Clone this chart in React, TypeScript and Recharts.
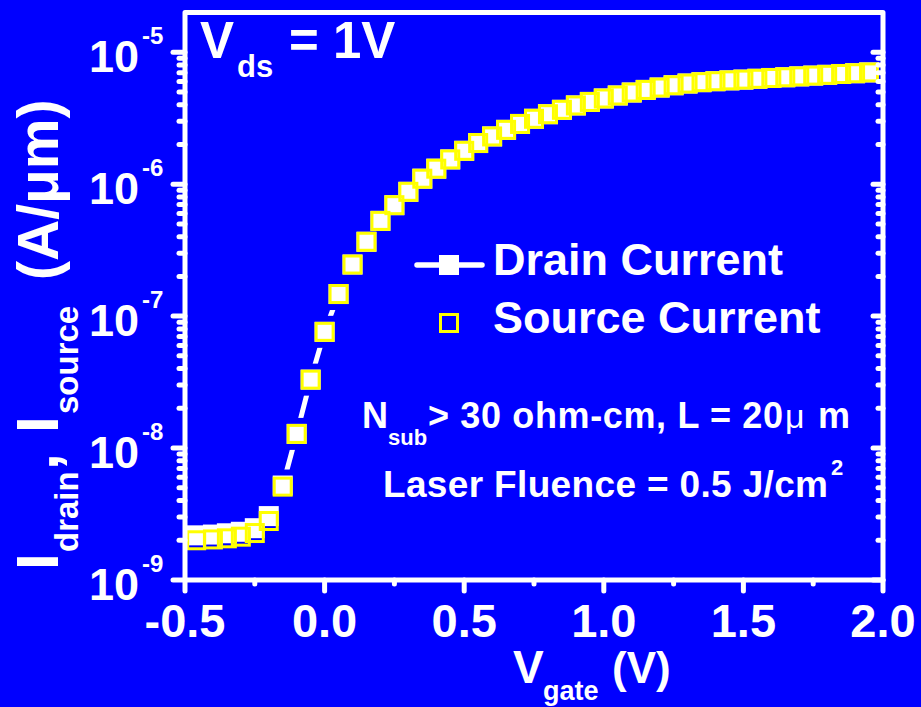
import React from 'react';
import { ComposedChart, Line, XAxis, YAxis } from 'recharts';

// gate voltage sweep (V)
const gateV = [
  -0.46, -0.4, -0.35, -0.3, -0.25, -0.2, -0.15, -0.1, -0.05, 0.0,
  0.05, 0.1, 0.15, 0.2, 0.25, 0.3, 0.35, 0.4, 0.45, 0.5,
  0.55, 0.6, 0.65, 0.7, 0.75, 0.8, 0.85, 0.9, 0.95, 1.0,
  1.05, 1.1, 1.15, 1.2, 1.25, 1.3, 1.35, 1.4, 1.45, 1.5,
  1.55, 1.6, 1.65, 1.7, 1.75, 1.8, 1.85, 1.9, 1.95,
];

// source current (A/um)
const sourceI = [
  2.0e-9, 2.03e-9, 2.07e-9, 2.13e-9, 2.27e-9, 2.8e-9, 5.1e-9, 1.28e-8, 3.3e-8, 7.6e-8,
  1.47e-7, 2.46e-7, 3.66e-7, 5.27e-7, 6.93e-7, 8.75e-7, 1.1e-6, 1.31e-6, 1.54e-6, 1.79e-6,
  2.05e-6, 2.3e-6, 2.58e-6, 2.86e-6, 3.13e-6, 3.39e-6, 3.66e-6, 3.95e-6, 4.2e-6, 4.46e-6,
  4.7e-6, 4.95e-6, 5.18e-6, 5.4e-6, 5.62e-6, 5.79e-6, 5.93e-6, 6.03e-6, 6.12e-6, 6.2e-6,
  6.29e-6, 6.38e-6, 6.46e-6, 6.56e-6, 6.65e-6, 6.74e-6, 6.84e-6, 6.93e-6, 7.03e-6,
];

// drain current (A/um), slightly above the source in the off state
const drainI = [
  2.18e-9, 2.21e-9, 2.26e-9, 2.32e-9, 2.47e-9, 3.05e-9, 5.2e-9, 1.28e-8, 3.3e-8, 7.6e-8,
  1.47e-7, 2.46e-7, 3.66e-7, 5.27e-7, 6.93e-7, 8.75e-7, 1.1e-6, 1.31e-6, 1.54e-6, 1.79e-6,
  2.05e-6, 2.3e-6, 2.58e-6, 2.86e-6, 3.13e-6, 3.39e-6, 3.66e-6, 3.95e-6, 4.2e-6, 4.46e-6,
  4.7e-6, 4.95e-6, 5.18e-6, 5.4e-6, 5.62e-6, 5.79e-6, 5.93e-6, 6.03e-6, 6.12e-6, 6.2e-6,
  6.29e-6, 6.38e-6, 6.46e-6, 6.56e-6, 6.65e-6, 6.74e-6, 6.84e-6, 6.93e-6, 7.03e-6,
];

const xTicks = [-0.5, -0.25, 0, 0.25, 0.5, 0.75, 1.0, 1.25, 1.5, 1.75, 2.0];
const yDecades = [-9, -8, -7, -6, -5];
const yMax = 2e-5;

const yTicks: number[] = [];
yDecades.forEach((d) => {
  for (let m = 1; m <= 9; m++) {
    const v = m * Math.pow(10, d);
    if (v < 1.9e-5) yTicks.push(v);
  }
});

const data = gateV.map((v, i) => ({ v, source: sourceI[i], drain: drainI[i] }));

const W = 921;
const H = 707;
const PL = 185;
const PR = 883;
const PT = 12.5;
const PB = 580;
const BG = '#0000FF';
const YEL = '#FFFF00';
const FONT = "'Liberation Sans', Arial, sans-serif";

const isDecade = (v: number) => {
  const l = Math.log10(v);
  return Math.abs(l - Math.round(l)) < 1e-6;
};

const LeftTick = (props: any) => {
  const { y, payload } = props;
  const v = payload.value;
  const major = isDecade(v);
  return (
    <g>
      <line x1={PL - (major ? 12 : 6)} x2={PL} y1={y} y2={y} stroke="#fff" strokeWidth={5} strokeLinecap="round" />
      {major && (
        <>
          <text x={139} y={y + 20} textAnchor="end" fontSize={45} fontWeight="bold" fill="#fff" fontFamily={FONT}>
            10
          </text>
          <text x={142} y={y - 8} fontSize={24} fontWeight="bold" fill="#fff" fontFamily={FONT}>
            {String(Math.round(Math.log10(v)))}
          </text>
        </>
      )}
    </g>
  );
};

const RightTick = (props: any) => {
  const { y, payload } = props;
  const major = isDecade(payload.value);
  return (
    <line x1={PR - (major ? 10 : 5)} x2={PR} y1={y} y2={y} stroke="#fff" strokeWidth={5} strokeLinecap="round" />
  );
};

const BottomTick = (props: any) => {
  const { x, payload } = props;
  const v = payload.value;
  const major = Math.abs(v * 2 - Math.round(v * 2)) < 1e-6;
  return (
    <g>
      <line x1={x} x2={x} y1={PB} y2={PB + (major ? 11 : 4)} stroke="#fff" strokeWidth={5} strokeLinecap="round" />
      {major && (
        <text x={x} y={637} textAnchor="middle" fontSize={47} fontWeight="bold" fill="#fff" fontFamily={FONT}>
          {v.toFixed(1)}
        </text>
      )}
    </g>
  );
};

const haloDot = (p: any) => (
  <rect key={`h${p.index}`} x={p.cx - 16} y={p.cy - 16} width={32} height={32} fill={BG} />
);
const drainDot = (p: any) => (
  <rect key={`d${p.index}`} x={p.cx - 10} y={p.cy - 10} width={20} height={20} fill="#fff" />
);
const sourceDot = (p: any) => (
  <rect key={`s${p.index}`} x={p.cx - 8.5} y={p.cy - 8.5} width={17} height={17} fill="none" stroke={YEL} strokeWidth={3} />
);

export default function App() {
  return (
    <div style={{ position: 'absolute', left: 0, top: 0, width: W, height: H, background: BG, overflow: 'hidden' }}>
      <ComposedChart width={W} height={H} data={data} margin={{ top: PT, right: 0, bottom: 0, left: 0 }}>
        <XAxis
          dataKey="v"
          type="number"
          domain={[-0.5, 2.0]}
          ticks={xTicks}
          interval={0}
          height={127}
          axisLine={false}
          tickLine={false}
          tick={<BottomTick />}
          allowDataOverflow
        />
        <YAxis
          yAxisId="l"
          type="number"
          scale="log"
          domain={[1e-9, yMax]}
          ticks={yTicks}
          interval={0}
          width={185}
          axisLine={false}
          tickLine={false}
          tick={<LeftTick />}
          allowDataOverflow
        />
        <YAxis
          yAxisId="r"
          orientation="right"
          type="number"
          scale="log"
          domain={[1e-9, yMax]}
          ticks={yTicks}
          interval={0}
          width={38}
          axisLine={false}
          tickLine={false}
          tick={<RightTick />}
          allowDataOverflow
        />
        <Line yAxisId="l" dataKey="drain" stroke="#fff" strokeWidth={5} dot={false} activeDot={false} isAnimationActive={false} />
        <Line yAxisId="l" dataKey="drain" stroke="none" dot={haloDot} activeDot={false} isAnimationActive={false} />
        <Line yAxisId="l" dataKey="drain" stroke="none" dot={drainDot} activeDot={false} isAnimationActive={false} />
        <Line yAxisId="l" dataKey="source" stroke="none" dot={sourceDot} activeDot={false} isAnimationActive={false} />
      </ComposedChart>

      <svg
        width={W}
        height={H}
        style={{ position: 'absolute', left: 0, top: 0, pointerEvents: 'none' }}
        fontFamily={FONT}
        fontWeight="bold"
        fill="#fff"
      >
        <rect x={PL} y={PT} width={PR - PL} height={PB - PT} fill="none" stroke="#fff" strokeWidth={5} strokeLinejoin="round" />

        {/* Vds label */}
        <text x={200} y={58} fontSize={51}>V</text>
        <text x={237} y={77} fontSize={31}>ds</text>
        <text x={289} y={58} fontSize={51}>= 1V</text>

        {/* legend */}
        <line x1={417} x2={482} y1={265} y2={265} stroke="#fff" strokeWidth={5.5} strokeLinecap="round" />
        <rect x={439} y={255} width={20} height={20} fill="#fff" />
        <text x={493} y={275} fontSize={45}>Drain Current</text>
        <rect x={440.5} y={314.5} width={17} height={17} fill="none" stroke={YEL} strokeWidth={3} />
        <text x={493} y={333} fontSize={45}>Source Current</text>

        {/* device notes */}
        <text x={362} y={428} fontSize={36}>N</text>
        <text x={388} y={445} fontSize={22}>sub</text>
        <text x={428} y={428} fontSize={36} textLength={355} lengthAdjust="spacing">&gt; 30 ohm-cm, L = 20</text>
        <text x={785} y={428} fontSize={34} fontWeight="normal">μ</text>
        <text x={818} y={428} fontSize={36}>m</text>
        <text x={383} y={497} fontSize={37} textLength={445} lengthAdjust="spacing">Laser Fluence = 0.5 J/cm</text>
        <text x={831} y={475} fontSize={22}>2</text>

        {/* x axis title */}
        <text x={513} y={683} fontSize={46}>V</text>
        <text x={543} y={700} fontSize={27}>gate</text>
        <text x={612} y={683} fontSize={44}>(V)</text>

        {/* y axis title */}
        <text transform="translate(58,566) rotate(-90)">
          <tspan x={-4} y={0} fontSize={60}>I</tspan>
          <tspan x={14} y={20} fontSize={33}>drain</tspan>
          <tspan x={96} y={0} fontSize={60}>,</tspan>
          <tspan x={133} y={0} fontSize={60}>I</tspan>
          <tspan x={152} y={20} fontSize={33}>source</tspan>
          <tspan x={286} y={0} fontSize={57}>(A/μm)</tspan>
        </text>
      </svg>
    </div>
  );
}
